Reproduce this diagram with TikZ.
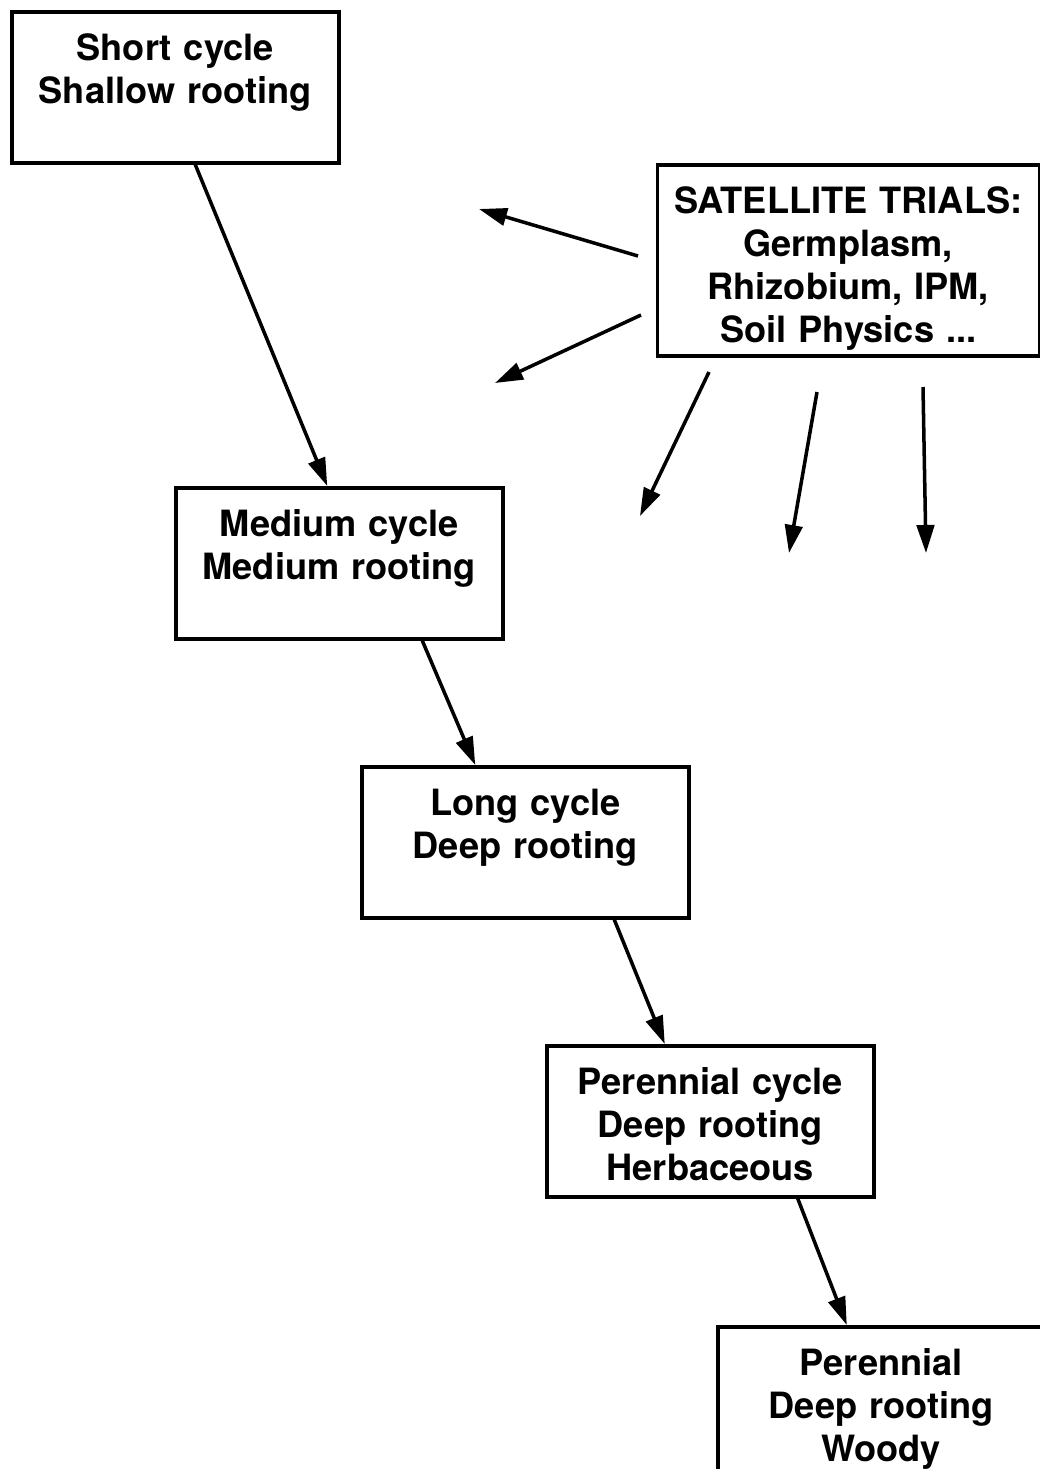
\documentclass[tikz,border=0pt]{standalone}
\usepackage{fontspec}
\setmainfont{TeX Gyre Heros}
\usetikzlibrary{arrows.meta}

\begin{document}
\begin{tikzpicture}[>={Triangle[length=2.8mm,width=1.75mm]}, line width=1pt,
        every node/.style={font=\fontsize{10.3}{12.3}\selectfont\bfseries, align=center, inner xsep=1mm, inner ysep=3pt},
        stage/.style={draw, anchor=north west, text width=3.07cm, text height=0.38cm, text depth=0.92cm},
        trials/.style={draw, anchor=north west, text width=3.62cm, text height=0.38cm, text depth=1.32cm}]

      \clip (0,0) rectangle (10.40,-14.69);

      % the chain of stages
      \node[stage] (short)     at (0.10,-0.10)  {Short cycle\\Shallow rooting};
      \node[stage] (medium)    at (1.74,-4.86)  {Medium cycle\\Medium rooting};
      \node[stage] (long)      at (3.60,-7.65)  {Long cycle\\Deep rooting};
      \node[stage] (perennial) at (5.45,-10.44) {Perennial cycle\\Deep rooting\\Herbaceous};
      \node[stage] (woody)     at (7.16,-13.25) {Perennial\\Deep rooting\\Woody};

      \node[trials] (sat) at (6.555,-1.63) {SATELLITE TRIALS:\\Germplasm,\\Rhizobium, IPM,\\Soil Physics ...};

      \draw[->] ([xshift=2mm]short.south)       -- ([xshift=-1.2mm]medium.north);
      \draw[->] ([xshift=8.3mm]medium.south)    -- ([xshift=-5mm]long.north);
      \draw[->] ([xshift=8.9mm]long.south)      -- ([xshift=-4.55mm]perennial.north);
      \draw[->] ([xshift=8.75mm]perennial.south) -- ([xshift=-3.45mm]woody.north);

      % arrows fanning out from the trials box
      \coordinate (s1) at (6.38,-2.56);  \coordinate (t1) at (4.79,-2.09);
      \coordinate (s2) at (6.41,-3.15);  \coordinate (t2) at (4.95,-3.83);
      \coordinate (s3) at (7.09,-3.72);  \coordinate (t3) at (6.40,-5.16);
      \coordinate (s4) at (8.17,-3.92);  \coordinate (t4) at (7.89,-5.53);
      \coordinate (s5) at (9.23,-3.87);  \coordinate (t5) at (9.26,-5.53);

      \draw[->] (s1) -- (t1);
      \draw[->] (s2) -- (t2);
      \draw[->] (s3) -- (t3);
      \draw[->] (s4) -- (t4);
      \draw[->] (s5) -- (t5);
    \end{tikzpicture}
\end{document}
